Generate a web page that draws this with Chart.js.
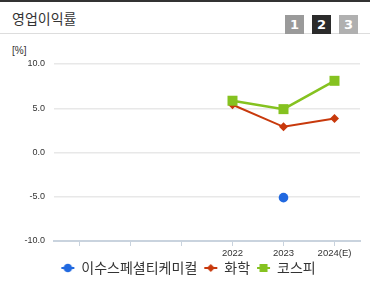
<!DOCTYPE html>
<html>
<head>
<meta charset="utf-8">
<script src="https://cdn.jsdelivr.net/npm/chart.js@4.4.1/dist/chart.umd.min.js"></script>
<style>
  body { margin: 0; background: #fff; font-family: "Noto Sans CJK KR", "Noto Sans", sans-serif; }
  .wrap { position: relative; width: 370px; height: 285px; overflow: hidden; }
  .head { height: 31px; border-top: 2px solid #333; border-bottom: 1px solid #ddd; position: relative; }
  .head .title { position: absolute; left: 12px; top: 6px; font-size: 14px; color: #333; }
  .pages { position: absolute; right: 12px; top: 8px; }
  .pages span { display: inline-block; width: 19px; height: 19px; margin-left: 8px; color: #fff;
    font: bold 13px/19px "DejaVu Sans", sans-serif; text-align: center; }
  .unit { position: absolute; left: 12px; top: 45px; font: 10px "Liberation Sans", sans-serif; color: #333; }
  .box { position: absolute; left: 0; top: 35px; width: 370px; height: 250px; }
</style>
</head>
<body>
<div class="wrap">
  <div class="head">
    <span class="title">영업이익률</span>
    <div class="pages"><span style="background:#9a9a9a">1</span><span style="background:#2b2b2b">2</span><span style="background:#b0b0b0">3</span></div>
  </div>
  <span class="unit">[%]</span>
  <div class="box"><canvas id="myChart"></canvas></div>
</div>
<script>
var labels = ['', '', '', '2022', '2023', '2024(E)'];
var company = [null, null, null, null, -5.1, null];
var chemical = [null, null, null, 5.4, 2.9, 3.85];
var kospi = [null, null, null, 5.85, 4.9, 8.1];
var yTicks = [-10, -5, 0, 5, 10];

// legend icon: short line with the marker on it (drawn off-centre so the gap before the text is right)
function legendIcon(color, style) {
  var c = document.createElement('canvas');
  c.width = 26; c.height = 12;
  var g = c.getContext('2d');
  g.strokeStyle = color; g.fillStyle = color; g.lineWidth = 2;
  g.beginPath(); g.moveTo(10, 6); g.lineTo(23, 6); g.stroke();
  g.beginPath();
  if (style == 'circle') g.arc(16.5, 6, 4.3, 0, Math.PI * 2);
  else if (style == 'diamond') { g.moveTo(16.5, 2); g.lineTo(20.5, 6); g.lineTo(16.5, 10); g.lineTo(12.5, 6); g.closePath(); }
  else g.rect(12.5, 2, 8, 8);
  g.fill();
  return c;
}

var ctx = document.getElementById('myChart');
var myChart = new Chart(ctx, {
  type: 'line',
  data: {
    labels: labels,
    datasets: [
      {
        label: '이수스페셜티케미컬',
        data: company,
        borderColor: '#2169e0',
        backgroundColor: '#2169e0',
        pointStyle: legendIcon('#2169e0', 'circle'),
        pointRadius: 0,
        order: 2
      },
      {
        label: '화학',
        data: chemical,
        borderColor: '#c8390c',
        backgroundColor: '#c8390c',
        borderWidth: 2,
        pointRadius: 0,
        pointStyle: legendIcon('#c8390c', 'diamond'),
        order: 1
      },
      {
        label: '코스피',
        data: kospi,
        borderColor: '#85c220',
        backgroundColor: '#85c220',
        borderWidth: 2.5,
        pointRadius: 0,
        pointStyle: legendIcon('#85c220', 'square'),
        order: 0
      }
    ]
  },
  options: {
    maintainAspectRatio: false,
    responsive: true,
    animation: false,
    layout: { padding: { left: 0, right: 10, top: 29, bottom: 0 } },
    elements: { line: { tension: 0 } },
    plugins: {
      tooltip: { enabled: false },
      legend: {
        position: 'bottom',
        labels: {
          usePointStyle: true,
          pointStyleWidth: 20,
          padding: 0,
          color: '#333',
          font: { size: 14, family: '"Noto Sans CJK KR", sans-serif' },
          sort: function (a, b) { return a.datasetIndex - b.datasetIndex; }
        }
      }
    },
    scales: {
      x: {
        offset: true,
        afterFit: function (s) { s.height = 20; },
        grid: { drawOnChartArea: false, drawTicks: true, tickLength: 5, color: '#c9d3de', lineWidth: 1 },
        border: { color: '#c9d3de', width: 2 },
        ticks: { color: '#333', padding: 2, font: { size: 9.5, family: '"Liberation Sans", sans-serif' }, maxRotation: 0, autoSkip: false }
      },
      y: {
        min: -10,
        max: 10,
        afterFit: function (s) { s.width = 54; },
        afterBuildTicks: function (s) { s.ticks = yTicks.map(function (v) { return { value: v }; }); },
        grid: { color: '#e8e8e8', lineWidth: 1.5, drawTicks: false },
        border: { display: false },
        ticks: {
          color: '#333', padding: 9,
          font: { size: 9, family: '"Liberation Sans", sans-serif' },
          callback: function (v) { return v.toFixed(1); }
        }
      }
    }
  },
  plugins: [{
    id: 'legendShift',
    afterLayout: function (chart) {
      chart.legend.left += 5;
      chart.legend.right += 5;
    }
  }, {
    id: 'markers',
    afterDatasetsDraw: function (chart) {
      var g = chart.ctx;
      var xs = chart.scales.x, ys = chart.scales.y;
      var sets = [[company, '#2169e0', 'circle'], [chemical, '#c8390c', 'diamond'], [kospi, '#85c220', 'square']];
      sets.forEach(function (s) {
        s[0].forEach(function (v, i) {
          if (v === null) return;
          var x = xs.getPixelForValue(i), y = ys.getPixelForValue(v);
          g.save(); g.fillStyle = s[1]; g.beginPath();
          if (s[2] == 'circle') g.arc(x, y, 4.8, 0, Math.PI * 2);
          else if (s[2] == 'diamond') { g.moveTo(x, y - 4.5); g.lineTo(x + 4.5, y); g.lineTo(x, y + 4.5); g.lineTo(x - 4.5, y); g.closePath(); }
          else g.rect(x - 5, y - 5, 10, 10);
          g.fill(); g.restore();
        });
      });
    }
  }]
});
</script>
</body>
</html>
